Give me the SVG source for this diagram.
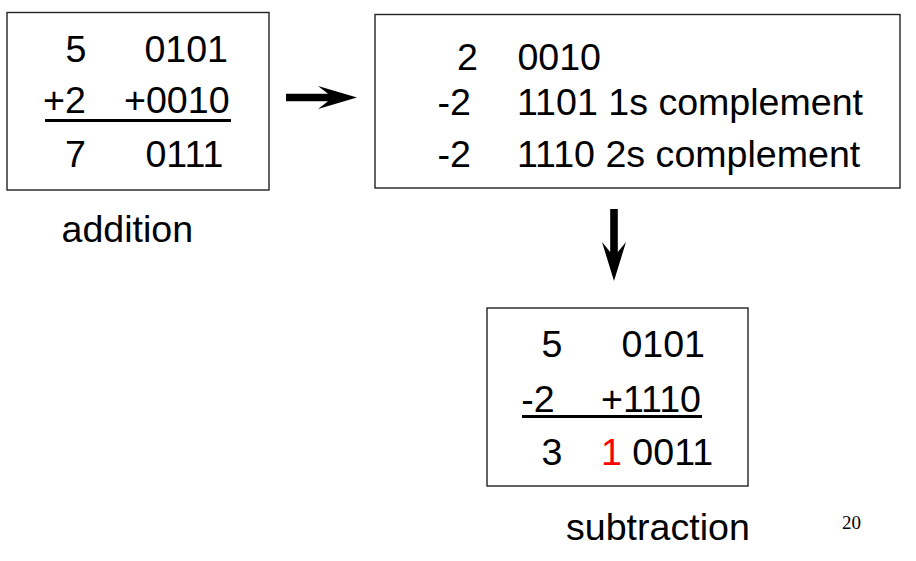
<svg xmlns="http://www.w3.org/2000/svg" width="916" height="561" viewBox="0 0 916 561">
  <style>
    .box { fill: #ffffff; stroke: #222222; stroke-width: 1.4; }
    .t { font-family: "Liberation Sans", Arial, sans-serif; font-size: 37.6px; fill: #000000; }
    .rule { stroke: #000000; stroke-width: 3; }
    .arrow { fill: #000000; stroke: none; }
    .pg { font-family: "Liberation Serif", "Times New Roman", serif; font-size: 19px; fill: #000000; }
  </style>
  <rect x="0" y="0" width="916" height="561" fill="#ffffff"/>

  <!-- binary addition example -->
  <g id="addition">
    <rect class="box" x="7" y="12.5" width="262" height="177.5"/>
    <text class="t" x="65.4" y="62">5</text>
    <text class="t" x="144.4" y="62">0101</text>
    <text class="t" x="43" y="113">+2</text>
    <text class="t" x="124" y="113">+0010</text>
    <line class="rule" x1="45" y1="120.5" x2="231" y2="120.5"/>
    <text class="t" x="65" y="167">7</text>
    <text class="t" x="145.4" y="167">0111</text>
  </g>

  <!-- negating 2 via complements -->
  <g id="complement">
    <rect class="box" x="375" y="14.5" width="525" height="173.5"/>
    <text class="t" x="457" y="70">2</text>
    <text class="t" x="517.4" y="70">0010</text>
    <text class="t" x="437.5" y="115">-2</text>
    <text class="t" x="517" y="115">1101 1s complement</text>
    <text class="t" x="437.5" y="167">-2</text>
    <text class="t" x="517" y="167">1110 2s complement</text>
  </g>

  <!-- subtraction by adding the 2s complement -->
  <g id="subtraction">
    <rect class="box" x="487" y="308" width="261" height="178"/>
    <text class="t" x="541.4" y="357">5</text>
    <text class="t" x="621.4" y="357">0101</text>
    <text class="t" x="521.3" y="412">-2</text>
    <text class="t" x="601" y="412">+1110</text>
    <line class="rule" x1="522" y1="416.5" x2="702" y2="416.5"/>
    <text class="t" x="541.5" y="465">3</text>
    <text class="t" x="601" y="465"><tspan fill="#ff0000">1</tspan> 0011</text>
  </g>

  <!-- captions -->
  <g id="label-addition">
    <text class="t" x="61.5" y="242">addition</text>
  </g>
  <g id="label-subtraction">
    <text class="t" x="566" y="540">subtraction</text>
  </g>
  <g id="page-number">
    <text class="pg" x="842" y="529">20</text>
  </g>

  <!-- block arrows -->
  <g id="connectors">
    <path class="arrow" d="M286,93.8 H328 L318,86 L357,97.5 L318,109 L328,101.2 H286 Z"/>
    <path class="arrow" d="M610.2,209 V252 L602,242 L614,281 L626,242 L617.8,252 V209 Z"/>
  </g>
</svg>
